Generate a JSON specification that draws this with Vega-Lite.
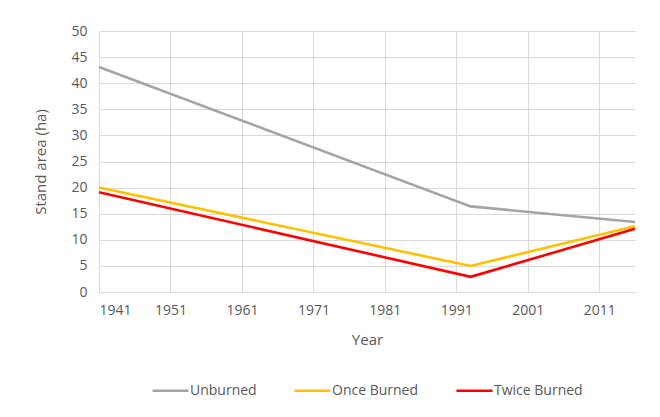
{
  "$schema": "https://vega.github.io/schema/vega-lite/v6.json",
  "autosize": "none",
  "width": 536,
  "height": 261,
  "padding": {"left": 99, "top": 31, "right": 25, "bottom": 125},
  "background": "white",
  "config": {
    "view": {"stroke": null},
    "font": "Open Sans",
    "legend": {"layout": {"bottom": {"anchor": "middle"}}},
    "axis": {"labelColor": "#595959", "titleColor": "#595959", "labelFontSize": 14, "titleFontSize": 15, "titleFontWeight": "normal", "gridColor": "#d9d9d9", "gridWidth": 1}
  },
  "data": {"values": [
    {"Year": 1941, "Series": "Unburned", "Area": 43.1},
    {"Year": 1993, "Series": "Unburned", "Area": 16.4},
    {"Year": 2016, "Series": "Unburned", "Area": 13.4},
    {"Year": 1941, "Series": "Once Burned", "Area": 20.0},
    {"Year": 1993, "Series": "Once Burned", "Area": 5.0},
    {"Year": 2016, "Series": "Once Burned", "Area": 12.6},
    {"Year": 1941, "Series": "Twice Burned", "Area": 19.1},
    {"Year": 1993, "Series": "Twice Burned", "Area": 2.9},
    {"Year": 2016, "Series": "Twice Burned", "Area": 12.1}
  ]},
  "mark": {"type": "line", "strokeWidth": 2.6},
  "encoding": {
    "x": {"field": "Year", "type": "quantitative",
      "scale": {"domain": [1941, 2016], "nice": false, "zero": false},
      "axis": {"values": [1941, 1951, 1961, 1971, 1981, 1991, 2001, 2011], "format": "d", "ticks": false, "domainColor": "#d9d9d9", "labelPadding": 11, "titlePadding": 15, "title": "Year"}},
    "y": {"field": "Area", "type": "quantitative",
      "scale": {"domain": [0, 50], "nice": false},
      "axis": {"values": [0,5,10,15,20,25,30,35,40,45,50], "ticks": false, "domain": false, "labelPadding": 12, "titlePadding": 22, "title": "Stand area (ha)"}},
    "color": {"field": "Series", "type": "nominal",
      "scale": {"domain": ["Unburned", "Once Burned", "Twice Burned"], "range": ["#a5a5a5", "#ffc000", "#ff0000"]},
      "legend": {"orient": "bottom", "direction": "horizontal", "title": null, "symbolType": "stroke", "symbolSize": 1300, "symbolStrokeWidth": 2.6, "labelFontSize": 14, "labelColor": "#595959", "offset": 24, "columnPadding": 32, "labelOffset": 0}
    }
  }
}
